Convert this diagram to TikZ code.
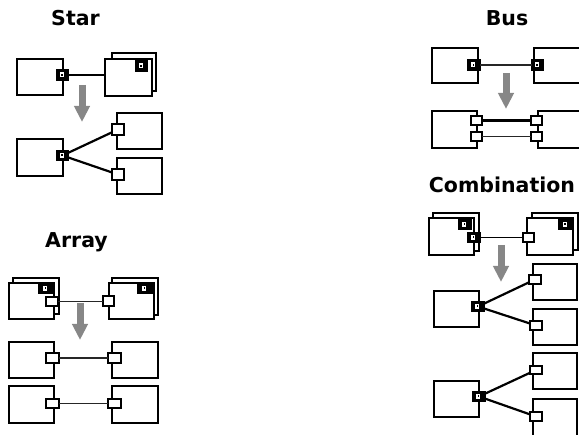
\documentclass[tikz,border=0pt]{standalone}
\usepackage{fontspec}
\setmainfont{DejaVu Sans}
\usetikzlibrary{fit,arrows.meta}
\definecolor{arrowgray}{RGB}{135,135,135}
\begin{document}
\begin{tikzpicture}[x=1pt,y=-1pt,
  box/.style={draw, line width=2.8pt, fill=white, inner sep=0pt, outer sep=0pt},
  thinbox/.style={box, line width=1.8pt},
  port/.style={draw, line width=2pt, fill=white, inner sep=0pt, outer sep=0pt},
  dport/.style={port, fill=black, path picture={
      \fill[white] (path picture bounding box.center) ++(-3pt,-2.5pt) rectangle ++(4pt,5pt);
      \fill[black] (path picture bounding box.center) ++(-1.5pt,-1pt) rectangle ++(1.5pt,2pt);}},
  title/.style={font=\bfseries\fontsize{20.5}{24}\selectfont, anchor=base, inner sep=0pt},
  conn/.style={line width=2.2pt},
  midconn/.style={line width=1.6pt},
  thinconn/.style={line width=1.1pt, black!85},
  step arrow/.style={line width=7pt, arrowgray, -{Triangle[width=15pt,length=16pt]}}
]
\clip (0,0) rectangle (579,435);
\useasboundingbox (0,0) rectangle (579,435);

% ---------------- titles
\node[title] (tstar) at (75.5,25.7) {Star};
\node[title] (tarray) at (76.5,248) {Array};
\node[title] (tbus) at (507,26) {Bus};
\node[title] (tcomb) at (502,193) {Combination};

% ---------------- STAR
\node[box, fit={(17,59) (63,95)}] (s1) {};
\node[box, fit={(112,53) (156,91)}] (s2b) {};
\node[box, fit={(105,59) (152,96)}] (s2) {};
\node[dport, fit={(136,61) (147,71)}] (s2q) {};
\node[dport, fit={(57,70) (68,80)}] (s1p) {};
\draw[conn] (s1p.east) -- (s1p.east -| s2.west);
\coordinate (sa1) at (82,85); \coordinate (sa2) at (82,122);
\draw[step arrow] (sa1) -- (sa2);
\node[box, fit={(17,139) (63,176)}] (s3) {};
\node[box, fit={(117,113) (162,149)}] (s4) {};
\node[box, fit={(117,158) (162,194)}] (s5) {};
\node[port, fit={(112,124) (124,135)}] (s4p) {};
\node[port, fit={(112,169) (124,180)}] (s5p) {};
\node[dport, fit={(57,151) (68,160)}] (s3p) {};
\draw[conn] (s3p.center) -- (s4p);
\draw[conn] (s3p.center) -- (s5p);
\node[dport, fit={(57,151) (68,160)}] (s3pp) {};

% ---------------- ARRAY
\node[box, fit={(13,278) (59,314)}] (a1b) {};
\node[box, fit={(9,283) (54,319)}] (a1) {};
\node[dport, fit={(39,284) (53,293)}] (a1q) {};
\node[port, fit={(46,297) (58,306)}] (a1p) {};
\node[box, fit={(112,278) (158,315)}] (a2b) {};
\node[box, fit={(109,283) (154,319)}] (a2) {};
\node[dport, fit={(138,284) (152,293)}] (a2q) {};
\node[port, fit={(103,296) (114,306)}] (a2p) {};
\draw[thinconn] (a1p.east) -- (a1p.east -| a2p.west);
\coordinate (aa1) at (80,303); \coordinate (aa2) at (80,340);
\draw[step arrow] (aa1) -- (aa2);
\node[box, fit={(9,342) (54,378)}] (a3) {};
\node[box, fit={(112,342) (158,378)}] (a4) {};
\node[port, fit={(46,353) (59,363)}] (a3p) {};
\node[port, fit={(108,353) (121,363)}] (a4p) {};
\draw[thinconn] (a3p) -- (a4p);
\node[box, fit={(9,386) (54,423)}] (a5) {};
\node[box, fit={(112,386) (158,423)}] (a6) {};
\node[port, fit={(46,399) (59,408)}] (a5p) {};
\node[port, fit={(108,399) (121,408)}] (a6p) {};
\draw[thinconn] (a5p) -- (a6p);

% ---------------- BUS
\node[box, fit={(432,48) (478,83)}] (b1) {};
\node[box, fit={(534,48) (600,83)}] (b2) {};
\node[dport, fit={(468,60) (480,70)}] (b1p) {};
\node[dport, fit={(532,60) (543,70)}] (b2p) {};
\draw[thinconn] (b1p) -- (b2p);
\coordinate (ba1) at (506,73); \coordinate (ba2) at (506,109);
\draw[step arrow] (ba1) -- (ba2);
\node[box, fit={(432,111) (477,148)}] (b3) {};
\node[box, fit={(538,111) (600,148)}] (b4) {};
\node[port, fit={(471,116) (482,125)}] (b3p) {};
\node[port, fit={(471,132) (482,141)}] (b3q) {};
\node[port, fit={(531,116) (542,125)}] (b4p) {};
\node[port, fit={(531,132) (542,141)}] (b4q) {};
\draw[conn] (b3p) -- (b4p);
\draw[thinconn] (b3q) -- (b4q);

% ---------------- COMBINATION
\node[box, fit={(433,213) (479,251)}] (c1b) {};
\node[box, fit={(429,218) (474,255)}] (c1) {};
\node[dport, fit={(459,220) (471,229)}] (c1q) {};
\node[dport, fit={(468,233) (480,242)}] (c1p) {};
\node[box, fit={(532,213) (578,250)}] (c2b) {};
\node[box, fit={(527,218) (573,255)}] (c2) {};
\node[dport, fit={(559,220) (572,229)}] (c2q) {};
\node[port, fit={(523,233) (534,242)}] (c2p) {};
\draw[midconn] (c1p.east) -- (c1p.east -| c2p.west);
\coordinate (ca1) at (501,245); \coordinate (ca2) at (501,282);
\draw[step arrow] (ca1) -- (ca2);
\node[thinbox, fit={(434,291) (479,327)}] (c3) {};
\node[box, fit={(533,264) (577,300)}] (c4) {};
\node[box, fit={(533,309) (577,345)}] (c5) {};
\node[port, fit={(529,275) (541,284)}] (c4p) {};
\node[port, fit={(530,321) (542,330)}] (c5p) {};
\node[dport, fit={(472,302) (484,311)}] (c3p) {};
\draw[conn] (c3p.center) -- (c4p);
\draw[conn] (c3p.center) -- (c5p);
\node[dport, fit={(472,302) (484,311)}] (c3pp) {};
\node[thinbox, fit={(434,381) (479,417)}] (c6) {};
\node[box, fit={(533,353) (577,389)}] (c7) {};
\node[box, fit={(533,399) (577,442)}] (c8) {};
\node[port, fit={(530,366) (542,374)}] (c7p) {};
\node[port, fit={(530,412) (542,421)}] (c8p) {};
\node[dport, fit={(473,392) (485,401)}] (c6p) {};
\draw[conn] (c6p.center) -- (c7p);
\draw[conn] (c6p.center) -- (c8p);
\node[dport, fit={(473,392) (485,401)}] (c6pp) {};
\end{tikzpicture}
\end{document}
